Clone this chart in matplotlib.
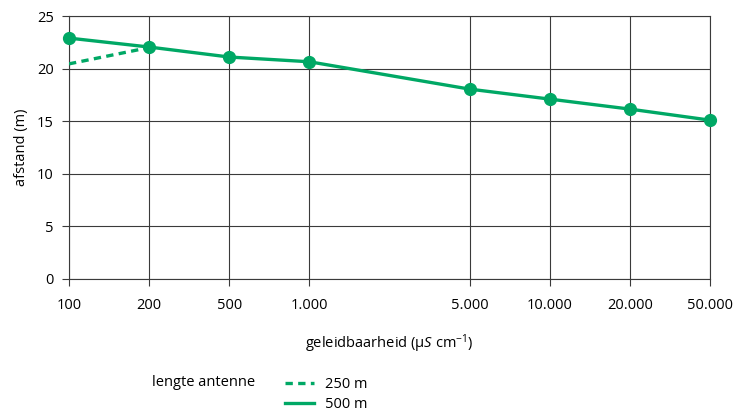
import matplotlib
matplotlib.use('Agg')
import matplotlib.pyplot as plt
from matplotlib.lines import Line2D

# Data
labels = ['100', '200', '500', '1.000', '5.000', '10.000', '20.000', '50.000']
positions = [0, 1, 2, 3, 5, 6, 7, 8]
afstand_500 = [22.9, 22.05, 21.1, 20.65, 18.05, 17.1, 16.15, 15.1]
pos_250 = [0, 1]
afstand_250 = [20.45, 22.0]

green = '#00a865'
grid_col = '#3a3a3a'
dash = (0, (2.2, 1.6))

plt.rcParams['font.family'] = ['Open Sans', 'DejaVu Sans']
plt.rcParams['mathtext.fontset'] = 'custom'
plt.rcParams['mathtext.rm'] = 'Open Sans'
plt.rcParams['mathtext.it'] = 'Open Sans:italic'

fig = plt.figure(figsize=(7.4, 4.13), dpi=100)
ax = fig.add_axes([69/740, 1-279/413, (710-69)/740, (279-16)/413])

ax.plot(pos_250, afstand_250, color=green, lw=2.4, ls=dash, zorder=3)
ax.plot(positions, afstand_500, color=green, lw=2.4, marker='o', ms=8.5,
        zorder=4, clip_on=False)

ax.set_xlim(0, 8)
ax.set_ylim(0, 25)
ax.set_xticks(positions)
ax.set_xticklabels(labels)
ax.set_yticks([0, 5, 10, 15, 20, 25])

ax.grid(True, color=grid_col, lw=0.8)
for s in ax.spines.values():
    s.set_color(grid_col)
    s.set_linewidth(0.8)
ax.tick_params(length=5, width=0.8, color=grid_col, labelsize=10.5, pad=6)
ax.tick_params(axis='x', pad=9)

ax.set_ylabel('afstand (m)', fontsize=10.5, labelpad=6)
ax.set_xlabel(r'geleidbaarheid (µ$S$ cm$^{-1}$)', fontsize=10.5, labelpad=14)

# legend without markers, as in the original
handles = [Line2D([], [], color=green, lw=2.4, ls=dash),
           Line2D([], [], color=green, lw=2.4)]
fig.text(152/740, 1-382/413, 'lengte antenne', fontsize=10.5, va='center')
fig.legend(handles, ['250 m', '500 m'], loc='upper left',
           bbox_to_anchor=(278/740, 1-370/413), frameon=False,
           fontsize=10.5, handlelength=2.0, handletextpad=0.7, labelspacing=0.3,
           borderpad=0)

fig.savefig('out.png', dpi=100)
